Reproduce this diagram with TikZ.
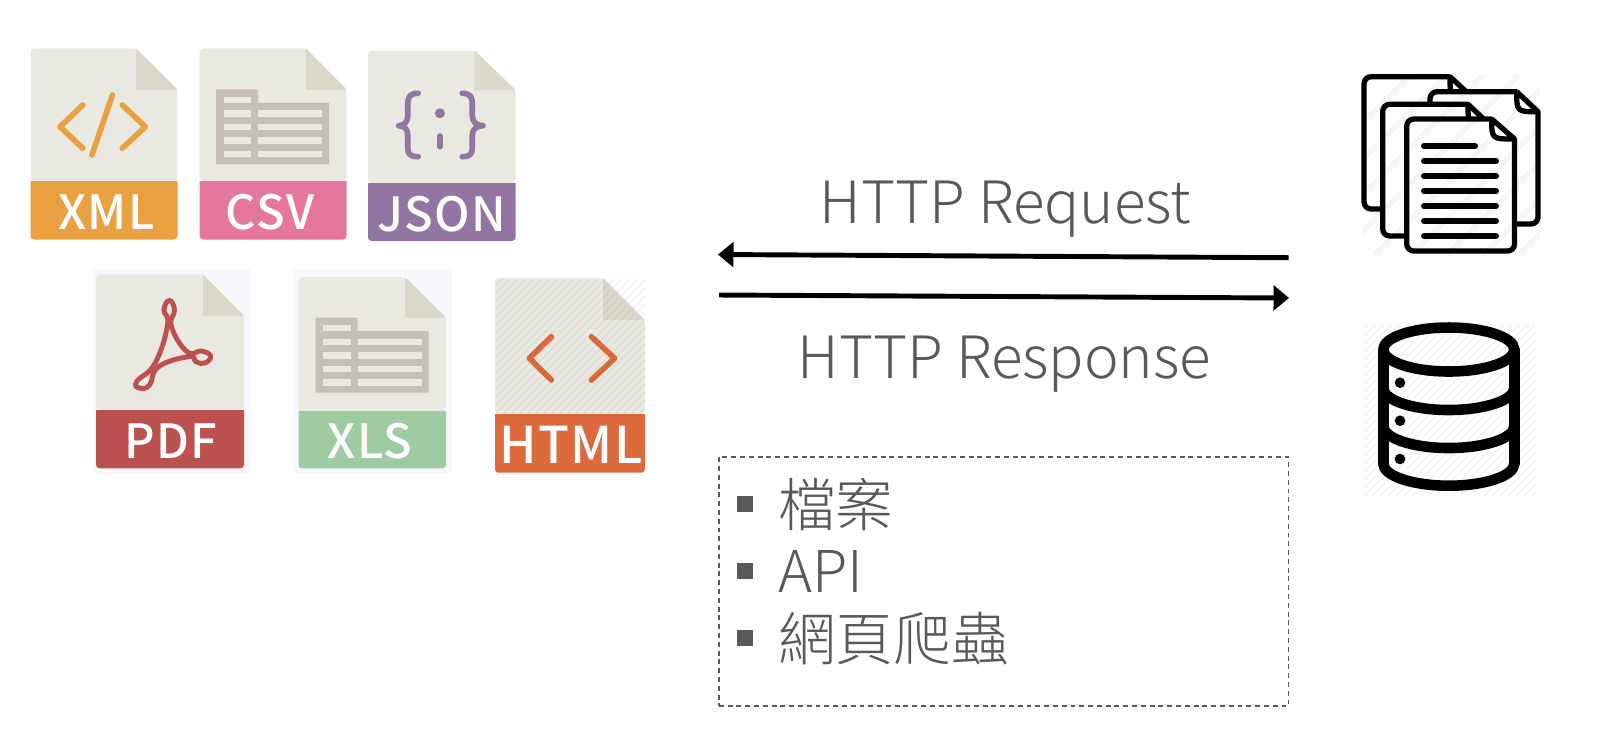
\documentclass[tikz,border=0pt]{standalone}
\usepackage{xcolor}
\usepackage{fontspec}
\setmainfont{Noto Sans CJK TC Light}
\newfontfamily\tagfont[LetterSpace=3]{Noto Sans CJK TC Medium}
\usepackage{tikz}
\usetikzlibrary{arrows.meta}
\usetikzlibrary{positioning}
\definecolor{bodygray}{HTML}{E9E8E1}
\definecolor{foldgray}{HTML}{D9D8CB}
\definecolor{tablegray}{HTML}{C6BEB9}
\definecolor{textgray}{HTML}{595959}
\definecolor{xmlc}{HTML}{E9A040}
\definecolor{csvc}{HTML}{E5779F}
\definecolor{jsonc}{HTML}{9375A3}
\definecolor{pdfc}{HTML}{BC5250}
\definecolor{xlsc}{HTML}{9FCBA3}
\definecolor{htmlc}{HTML}{DD6A3B}
\tikzset{>=latex}
\tikzstyle{tag} = [draw=none, inner sep = 0, anchor = base, text = white, font = \tagfont\fontsize{13.4}{16}\selectfont]
\tikzstyle{big} = [draw=none, inner sep = 0, anchor = base, text = textgray, font = \fontsize{16.6}{19}\selectfont]
\tikzstyle{item} = [big, anchor = base west]
\tikzstyle{bullet} = [rectangle, fill = textgray, inner sep = 0, minimum size = 4.5pt]
\tikzstyle{flow} = [line width = 1.4pt, -{Triangle[length = 4.4pt, width = 7pt]}]
\tikzstyle{glyph} = [line width = 1.6pt, line cap = round, line join = round]
\tikzstyle{page} = [line width = 1.5pt, line join = round, fill = white, rounded corners = 2pt]
\tikzstyle{docline} = [line width = 1.7pt, line cap = round]
\tikzstyle{dbline} = [line width = 3pt, line cap = round, line join = round]
% l, r, t, b, fold x, fold y, band y, colour
\newcommand{\filebody}[8]{
\fill [bodygray, rounded corners = 1pt] (#1,#7) -- (#1,#3) -- (#5,#3) -- (#2,#6) -- (#2,#7) -- cycle;
\fill [foldgray] (#5,#3) -- (#5,#6) -- (#2,#6) -- cycle;
\fill [#8] (#1,#7) [rounded corners = 1pt] -- (#1,#4) -- (#2,#4) [sharp corners] -- (#2,#7) -- cycle;
}
\newcommand{\tablemark}[2]{
\begin{scope}[shift = {(#1,#2)}]
\fill [tablegray] (0,0) -- (42,0) -- (42,13.5) -- (113,13.5) -- (113,75) -- (0,75) -- cycle;
\fill [bodygray] (7.5,7.5) rectangle (35,13.5);
\foreach \r in {21,34.5,48,61.5} {
\fill [bodygray] (7.5,\r) rectangle (35,\r+6.5);
\fill [bodygray] (42,\r) rectangle (106,\r+6.5);
}
\end{scope}
}
\newcommand{\docpage}[6]{
\draw [page] (#5,#2) -- (#1,#2) -- (#1,#4) -- (#3,#4) [sharp corners] -- (#3,#6) -- (#5,#2) .. controls (#5,#6) .. (#3,#6);
}
\newcommand{\hatch}[6]{
\begin{scope}
\clip (#1,#2) rectangle (#3,#4);
\pgfmathsetmacro{\stepb}{-240+#5}
\foreach \i in {-240,\stepb,...,200} {
\draw [black, opacity = .04, line width = #6] (#1+\i,#4) -- (#1+\i+#4-#2,#2);
}
\end{scope}
}

\begin{document}
\begin{tikzpicture}[x=0.01cm, y=-0.01cm]
\useasboundingbox (0,0) rectangle (1600,738);
\filebody{30.5}{177.5}{48.3}{239.5}{136}{89.5}{181}{xmlc}
\draw [glyph, xmlc] (82.8,105) -- (60.1,126.7) -- (82.8,148.3);
\draw [glyph, xmlc] (122.3,105) -- (145.3,126.7) -- (122.3,148.3);
\draw [glyph, xmlc] (112.5,95) -- (91.9,155);
\node [tag] (XML) at (106.4,229) {XML};
\filebody{199.7}{346.6}{48.3}{239.5}{305.7}{89.5}{181}{csvc}
\tablemark{216.2}{89.3}
\node [tag] (CSV) at (269.8,229) {CSV};
\filebody{368}{515.5}{50.5}{241}{474.6}{90}{183}{jsonc}
\draw [glyph, jsonc] (418.2,93.3) .. controls (410,93.3) and (407.8,97) .. (407.8,103) -- (407.8,116) .. controls (407.8,122) and (404,125.7) .. (398.6,125.7) .. controls (404,125.7) and (407.8,129) .. (407.8,135) -- (407.8,148) .. controls (407.8,154) and (410,156.7) .. (418.2,156.7);
\draw [glyph, jsonc] (462.2,93.3) .. controls (470,93.3) and (472.3,97) .. (472.3,103) -- (472.3,116) .. controls (472.3,122) and (477,125.7) .. (483,125.7) .. controls (477,125.7) and (472.3,129) .. (472.3,135) -- (472.3,148) .. controls (472.3,154) and (470,156.7) .. (462.2,156.7);
\fill [jsonc] (439.9,113.3) circle (5);
\draw [glyph, jsonc] (439.9,136) -- (439.9,146.7);
\node [tag] (JSON) at (441.7,231) {JSON};
\fill [blue!30!gray, opacity = .04] (92.5,269) rectangle (249.6,472.5);
\filebody{96}{244}{274.3}{468.3}{203}{316}{410}{pdfc}
\draw [pdfc, line width = 1.4pt] plot [smooth cycle, tension = .8] coordinates {(169.3,300.5) (174.5,310) (171.5,326.7) (187.1,351.7) (201.4,351) (210.5,356) (205,363) (196,361.7) (188.9,356.7) (158.6,366.7) (149.6,385) (139.5,388) (137,381) (155,363.3) (167.5,325) (164,310)};
\node [tag] (PDF) at (170.7,458) {PDF};
\fill [blue!30!gray, opacity = .04] (293,269) rectangle (452,472.5);
\filebody{298.5}{446}{277}{468.3}{405}{317.7}{411}{xlsc}
\tablemark{315.7}{317.7}
\node [tag] (XLS) at (370,458) {XLS};
\filebody{495}{645}{278}{472.7}{603}{320}{414}{htmlc}
\draw [glyph, htmlc] (551.4,336.7) -- (529.3,358.3) -- (551.4,380);
\draw [glyph, htmlc] (591.4,336.7) -- (614.6,358.3) -- (591.4,380);
\hatch{495}{278}{645}{414}{8}{.5pt}
\node [tag, font = \tagfont\fontsize{14.4}{18}\selectfont] (HTML) at (571,463) {HTML};
\node [big] (req) at (1005.5,223) {HTTP Request};
\node [big] (res) at (1004.5,378) {HTTP Response};
\coordinate (reqR) at (1288.5,257.7);
\coordinate (reqL) at (718,254.5);
\coordinate (resL) at (719,295);
\coordinate (resR) at (1289,298);
\draw [flow] (reqR) to (reqL);
\draw [flow] (resL) to (resR);
\node [rectangle, draw = textgray, dash pattern = on 1.4pt off 1.1pt, line width = .4pt, inner sep = 0, minimum width = 5.695cm, minimum height = 2.49cm] (box) at (1003.75,581.5) {};
\node [bullet] (b1) at (745,504) {};
\node [bullet] (b2) at (745,571) {};
\node [bullet] (b3) at (745,638.3) {};
\node [item, font = \fontsize{16.4}{19}\selectfont] (t1) at (777.5,526) {檔案};
\node [item, font = \fontsize{16.4}{19}\selectfont] (t2) at (777.5,592.7) {API};
\node [item, font = \fontsize{16.4}{19}\selectfont] (t3) at (777.5,660) {網頁爬蟲};
\docpage{1364}{76.7}{1472}{209}{1450}{97}
\docpage{1430}{91.7}{1538}{224}{1516.7}{111.7}
\docpage{1382.7}{104.3}{1490}{236}{1468}{125}
\docpage{1406.7}{119}{1514.5}{251}{1491.7}{139}
\draw [docline] (1424,146) -- (1475,146);
\foreach \y in {161,176,191,206,221,236} {
\draw [docline] (1424,\y) -- (1496,\y);
}
\hatch{1363}{75}{1540}{255}{36}{1.6pt}
\draw [dbline] (1383.3,349.5) arc (180:-180:65.5 and 22);
\draw [dbline] (1383.3,349.5) -- (1383.3,463.7);
\draw [dbline] (1514.3,349.5) -- (1514.3,463.7);
\draw [dbline] (1383.3,388) arc (180:0:65.5 and 22);
\draw [dbline] (1383.3,426) arc (180:0:65.5 and 22);
\draw [dbline] (1383.3,463.7) arc (180:0:65.5 and 22);
\fill (1400,382.7) circle (5.3);
\fill (1400,420.7) circle (5.3);
\fill (1400,459) circle (5.3);
\hatch{1363}{323}{1535}{497}{8}{.5pt}
\end{tikzpicture}
\end{document}
